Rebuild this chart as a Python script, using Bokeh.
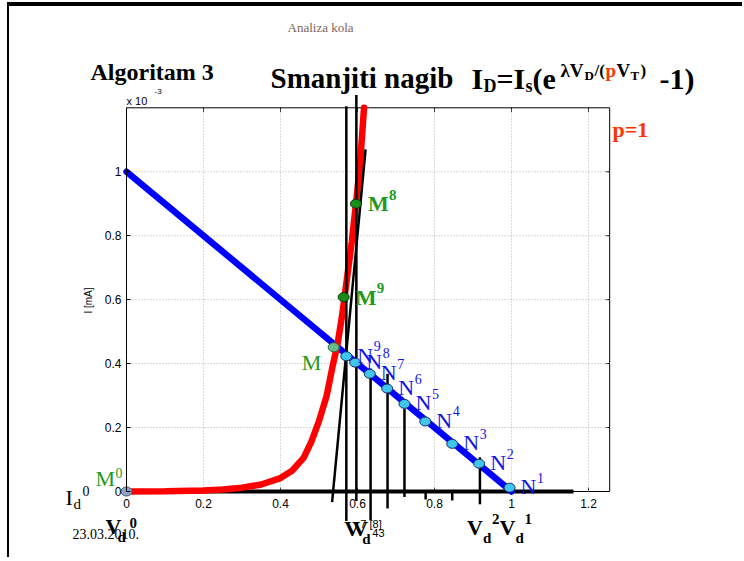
import math
from bokeh.plotting import figure
from bokeh.models import Label, FixedTicker, CustomJSTickFormatter, Range1d
from bokeh.core.properties import value
from bokeh.embed import file_html
from bokeh.resources import INLINE

# ---------------- data (I in units of 1e-3 A) ----------------
x_ticks = [0.0, 0.2, 0.4, 0.6, 0.8, 1.0, 1.2]
x_tick_labels = ["0", "0.2", "0.4", "0.6", "0.8", "1", "1.2"]
y_ticks = [0.0, 0.2, 0.4, 0.6, 0.8, 1.0]
x_lim = [0.0, 1.255]
y_lim = [0.0, 1.2]

load_v = [0.0, 1.0]
load_i = [1.0, 0.0]

diode_v = [0.0, 0.1, 0.2, 0.25, 0.3, 0.35, 0.4, 0.43, 0.46, 0.48, 0.5, 0.52,
           0.535, 0.548, 0.56, 0.572, 0.585, 0.596, 0.607, 0.617]
diode_i = [0.0, 0.001, 0.003, 0.006, 0.012, 0.022, 0.042, 0.065, 0.105, 0.155, 0.22, 0.30,
           0.39, 0.46, 0.55, 0.66, 0.78, 0.90, 1.03, 1.2]

n_names = ["1", "2", "3", "4", "5", "6", "7", "8", "9"]
n_v = [0.995, 0.916, 0.846, 0.776, 0.722, 0.677, 0.632, 0.594, 0.571]
n_i = [0.012, 0.087, 0.149, 0.219, 0.274, 0.322, 0.368, 0.403, 0.423]

m_names = ["8", "9"]
m_v = [0.596, 0.564]
m_i = [0.900, 0.608]

sol_v = [0.538]
sol_i = [0.451]
start_v = [0.0]
start_i = [0.0]

vline_v = [0.571, 0.597, 0.634, 0.678, 0.722, 0.777, 0.846, 0.918]
vline_top = [1.205, 1.24, 0.368, 0.368, 0.259, 0.0, 0.0, 0.107]
vline_bot = [-0.092, -0.03, -0.09, -0.053, -0.017, -0.025, -0.028, -0.04]

tangent_v = [0.534, 0.621]
tangent_i = [-0.033, 1.07]

base_v = [0.0, 1.161]
base_i = [0.0, 0.0]

# ---------------- layout ----------------
PAGE_X, PAGE_Y = 9, 6             # canvas origin on the page (after slide border)
W, H = 735, 555
MB_L, MB_R, MB_T, MB_B = 40, 0, 0, 0
ORG_X, ORG_Y = 126.0, 491.0      # page pixel of data (0, 0)
XS, YS = 385.0, 319.75           # pixels per data unit
fl, fr = PAGE_X + MB_L, PAGE_X + W - MB_R
ft, fb = PAGE_Y + MB_T, PAGE_Y + H - MB_B
SERIF = "Liberation Serif"
SANS = "Liberation Sans"

p = figure(width=W, height=H,
           x_range=Range1d((fl - ORG_X) / XS, (fr - ORG_X) / XS),
           y_range=Range1d((ORG_Y - fb) / YS, (ORG_Y - ft) / YS),
           x_axis_location=None,
           output_backend="svg", toolbar_location=None,
           min_border_left=MB_L, min_border_right=MB_R,
           min_border_top=MB_T, min_border_bottom=MB_B)
p.outline_line_color = None
p.grid.visible = False
p.styles = {"margin-left": "7px", "margin-top": "2px",
            "border-left": "2px solid black", "border-top": "4px solid black"}

fmt = CustomJSTickFormatter(code="return String(Number(tick.toFixed(2)));")

ya = p.yaxis[0]
ya.ticker = FixedTicker(ticks=y_ticks)
ya.formatter = fmt
ya.major_tick_in = 4
ya.major_tick_out = 0
ya.minor_tick_line_color = None
ya.axis_line_color = "black"
ya.major_tick_line_color = "black"
ya.major_label_text_font = SANS
ya.major_label_text_font_size = "12px"
ya.major_label_text_color = "black"
ya.fixed_location = 0
ya.bounds = (y_lim[0], y_lim[1])
ya.major_label_standoff = 5

# x tick labels
p.text(x=x_ticks, y=[y_lim[0] - 7 / YS] * len(x_ticks), text=x_tick_labels,
       text_align="center", text_baseline="top", text_font=value(SANS),
       text_font_size="12px", text_color="black")

# bottom, top and right sides of the box with inward ticks
p.line([x_lim[0], x_lim[1], x_lim[1], x_lim[0]], [y_lim[0], y_lim[0], y_lim[1], y_lim[1]],
       line_color="black", line_width=1)
tx = x_ticks[1:]
ty = y_ticks[1:]
p.segment(x0=tx, y0=[y_lim[1]] * len(tx), x1=tx, y1=[y_lim[1] - 4 / YS] * len(tx),
          line_color="black", line_width=1)
p.segment(x0=tx, y0=[y_lim[0]] * len(tx), x1=tx, y1=[y_lim[0] + 4 / YS] * len(tx),
          line_color="black", line_width=1)
p.segment(x0=[x_lim[1]] * len(ty), y0=ty, x1=[x_lim[1] - 4 / XS] * len(ty), y1=ty,
          line_color="black", line_width=1)

# grid (MATLAB style dotted)
p.segment(x0=tx, y0=[y_lim[0]] * len(tx), x1=tx, y1=[y_lim[1]] * len(tx),
          line_color="#b4b4b4", line_dash="1 2", line_width=1)
p.segment(x0=[x_lim[0]] * len(ty), y0=ty, x1=[x_lim[1]] * len(ty), y1=ty,
          line_color="#b4b4b4", line_dash="1 2", line_width=1)

# curves
p.line(base_v, base_i, line_color="black", line_width=4)
p.line(load_v, load_i, line_color="#0000ff", line_width=6.5, line_cap="round")
p.line(diode_v, diode_i, line_color="#ff0000", line_width=6.5, line_cap="round")
p.segment(x0=vline_v, y0=vline_bot, x1=vline_v, y1=vline_top,
          line_color="black", line_width=2.5)
p.line(tangent_v, tangent_i, line_color="black", line_width=2.5)

# points
def dots(xs, ys, fill, line):
    p.ellipse(x=xs, y=ys, width=11, height=9, width_units="screen", height_units="screen",
              fill_color=fill, line_color=line, line_width=1)

dots(n_v, n_i, "#3fc6ee", "#1b2f66")
dots(m_v, m_i, "#1a8c1a", "#0b3d0b")
dots(sol_v, sol_i, "#66bb88", "#2a6a4a")
dots(start_v, start_i, "#8fa3c3", "#4a5a7a")

# ---------------- text ----------------
def lab(x, y, text, size, color="black", bold=False, font=SERIF, angle=0.0,
        align="left", baseline="alphabetic"):
    p.add_layout(Label(x=x, y=y, text=text, text_font=font, text_font_size=f"{size}px",
                       text_color=color, text_font_style="bold" if bold else "normal",
                       text_baseline=baseline, text_align=align, angle=angle))

def plab(px, py, text, size, **kw):
    # page pixel position -> data position
    lab((px - ORG_X) / XS, (ORG_Y - py) / YS, text, size, **kw)

def dlab(xd, yd, dx, dy, text, size, **kw):
    # offset in pixels (dy positive = down) from a data point
    lab(xd + dx / XS, yd - dy / YS, text, size, **kw)

plab(88, 300, "I [mA]", 10, font=SANS, angle=math.pi / 2, align="center", baseline="middle")

plab(287, 27, "Analiza kola", 13, color="#7b6560")
plab(90, 71, "Algoritam 3", 24, bold=True)
plab(270, 77, "Smanjiti nagib", 29, bold=True)

# I_D = I_s (e^{lambda V_D / (p V_T)} - 1)
plab(471, 78, "I", 30, bold=True)
plab(483, 85, "D", 18, bold=True)
plab(496, 78, "=I", 30, bold=True)
plab(525, 85, "s", 18, bold=True)
plab(532, 78, "(e", 30, bold=True)
plab(560, 70, "λV", 19, bold=True)
plab(584, 75, "D", 13, bold=True)
plab(594, 70, "/(", 17, bold=True)
plab(605, 70, "p", 19, bold=True, color="#ff3300")
plab(616, 70, "V", 19, bold=True)
plab(630, 75, "T", 13, bold=True)
plab(640, 70, ")", 17, bold=True)
plab(659, 78, "-1)", 30, bold=True)

plab(612, 129, "p=1", 22, bold=True, color="#ff3300")
plab(126, 100, "x 10", 11, font=SANS)
plab(154, 91, "-3", 8, font=SANS)

BLUE = "#1414e6"
GREEN = "#1f9a1f"
for nm, v, i in zip(n_names, n_v, n_i):
    dlab(v, i, 11, -1, "N", 22, color=BLUE)
    dlab(v, i, 27.5, -10, nm, 14, color=BLUE)

for nm, v, i in zip(m_names, m_v, m_i):
    dlab(v, i, 12, 0, "M", 22, color=GREEN, bold=True)
    dlab(v, i, 33, -9, nm, 15, color=GREEN, bold=True)

dlab(sol_v[0], sol_i[0], -32, 15, "M", 22, color=GREEN)
dlab(start_v[0], start_i[0], -31, -13, "M", 22, color=GREEN)
dlab(start_v[0], start_i[0], -11, -19, "0", 14, color=GREEN)

dlab(start_v[0], start_i[0], -61, 6, "I", 22)
dlab(start_v[0], start_i[0], -53, 12, "d", 15)
dlab(start_v[0], start_i[0], -44, -1, "0", 14)

dlab(start_v[0], start_i[0], -54, 42, "23.03.2010.", 14)
dlab(start_v[0], start_i[0], -21, 35, "V", 22, bold=True)
dlab(start_v[0], start_i[0], -9, 45, "d", 15, bold=True)
dlab(start_v[0], start_i[0], 3, 31, "0", 15, bold=True)

dlab(vline_v[7], 0.0, -13, 36, "V", 22, bold=True)
dlab(vline_v[7], 0.0, 3, 46, "d", 15, bold=True)
dlab(vline_v[7], 0.0, 12, 27, "2", 15, bold=True)
dlab(n_v[0], 0.0, -10, 36, "V", 22, bold=True)
dlab(n_v[0], 0.0, 6, 46, "d", 15, bold=True)
dlab(n_v[0], 0.0, 15, 27, "1", 15, bold=True)

dlab(vline_v[0], 0.0, -2, 37, "V", 22, bold=True)
dlab(vline_v[0], 0.0, 6, 37, "V", 22, bold=True)
dlab(vline_v[0], 0.0, 14, 32, "7 [8]", 11, font=SANS)
dlab(vline_v[0], 0.0, 16, 47, "d", 15, bold=True)
dlab(vline_v[0], 0.0, 26, 41, "43", 11, font=SANS)

open("out.html", "w").write(file_html(p, INLINE))
